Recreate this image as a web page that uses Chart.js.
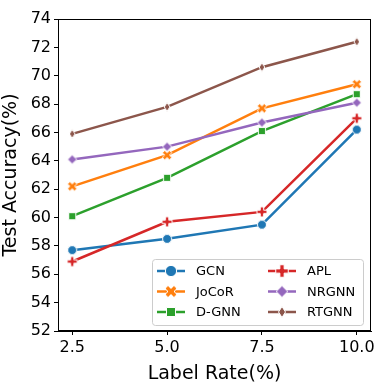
<!DOCTYPE html>
<html>
<head>
<meta charset="utf-8">
<script src="https://cdn.jsdelivr.net/npm/chart.js@4/dist/chart.umd.min.js"></script>
<style>
  html, body { margin: 0; padding: 0; background: #fff; }
  #wrap { width: 390px; height: 390px; }
</style>
</head>
<body>
<div id="wrap"><canvas id="c" width="390" height="390"></canvas></div>
<script>
// Data
const labelRates = [2.5, 5.0, 7.5, 10.0];
const yTicks = [52, 54, 56, 58, 60, 62, 64, 66, 68, 70, 72, 74];
const seriesNames = ['GCN', 'JoCoR', 'D-GNN', 'APL', 'NRGNN', 'RTGNN'];
const gcn = [57.7, 58.5, 59.5, 66.2];
const jocor = [62.2, 64.4, 67.7, 69.4];
const dgnn = [60.1, 62.8, 66.1, 68.7];
const apl = [56.9, 59.7, 60.4, 67.0];
const nrgnn = [64.1, 65.0, 66.7, 68.1];
const rtgnn = [65.9, 67.8, 70.6, 72.4];

const seriesValues = [gcn, jocor, dgnn, apl, nrgnn, rtgnn];
const colors = ['#1f77b4', '#ff7f0e', '#2ca02c', '#d62728', '#9467bd', '#8c564b'];
const shapes = ['circle', 'X', 'square', 'P', 'D', 'd'];
const FONT = "'DejaVu Sans', sans-serif";

// Draw a matplotlib-like marker into its own small canvas
function makeMarker(shape, color, k) {
    const size = Math.ceil(16 * k);
    const cv = document.createElement('canvas');
    cv.width = size;
    cv.height = size;
    const ctx = cv.getContext('2d');
    const c = size / 2;
    ctx.fillStyle = color;
    ctx.strokeStyle = '#fff';
    ctx.lineWidth = 1;
    ctx.beginPath();
    if (shape === 'circle') {
        ctx.arc(c, c, 4.5 * k, 0, Math.PI * 2);
    } else if (shape === 'square') {
        const h = 3.6 * k;
        ctx.rect(c - h, c - h, 2 * h, 2 * h);
    } else if (shape === 'D') {
        const h = 4.6 * k;
        ctx.moveTo(c, c - h); ctx.lineTo(c + h, c); ctx.lineTo(c, c + h); ctx.lineTo(c - h, c);
        ctx.closePath();
    } else if (shape === 'd') {
        const h = 4.4 * k, w = 2.8 * k;
        ctx.moveTo(c, c - h); ctx.lineTo(c + w, c); ctx.lineTo(c, c + h); ctx.lineTo(c - w, c);
        ctx.closePath();
    } else {
        // plus shape, rotated for 'X'
        const a = 5 * k, t = 1.7 * k;
        const pts = [[-a, -t], [-t, -t], [-t, -a], [t, -a], [t, -t], [a, -t],
                     [a, t], [t, t], [t, a], [-t, a], [-t, t], [-a, t]];
        const ang = shape === 'X' ? Math.PI / 4 : 0;
        pts.forEach((p, i) => {
            const x = c + p[0] * Math.cos(ang) - p[1] * Math.sin(ang);
            const y = c + p[0] * Math.sin(ang) + p[1] * Math.cos(ang);
            if (i === 0) ctx.moveTo(x, y); else ctx.lineTo(x, y);
        });
        ctx.closePath();
    }
    ctx.fill();
    ctx.stroke();
    return cv;
}

const plotMarkers = shapes.map((s, i) => makeMarker(s, colors[i], 1));
const legendMarkers = shapes.map((s, i) => makeMarker(s, colors[i], 1.25));

// Full box around the plot area
const frameBox = {
    id: 'frameBox',
    afterDatasetsDraw(chart) {
        const a = chart.chartArea;
        const ctx = chart.ctx;
        ctx.save();
        ctx.strokeStyle = '#000';
        ctx.lineWidth = 1;
        ctx.strokeRect(Math.round(a.left) + 0.5, Math.round(a.top) + 0.5,
            Math.round(a.right - a.left) - 1, Math.round(a.bottom - a.top) - 1);
        ctx.restore();
    }
};

// Two-column legend inside the lower right of the plot
const innerLegend = {
    id: 'innerLegend',
    afterDraw(chart) {
        const a = chart.chartArea;
        const ctx = chart.ctx;
        const boxW = 211, boxH = 66;
        const x0 = a.right - 8 - boxW, y0 = a.bottom - 6 - boxH;
        ctx.save();
        ctx.beginPath();
        ctx.roundRect(x0 + 0.5, y0 + 0.5, boxW, boxH, 3);
        ctx.fillStyle = 'rgba(255,255,255,0.8)';
        ctx.fill();
        ctx.strokeStyle = '#cccccc';
        ctx.lineWidth = 1;
        ctx.stroke();
        ctx.font = '13px ' + FONT;
        ctx.textBaseline = 'middle';
        seriesNames.forEach((name, i) => {
            const col = Math.floor(i / 3), row = i % 3;
            const lx = x0 + 5 + col * 111;
            const ly = y0 + 12 + row * 20.5;
            ctx.strokeStyle = colors[i];
            ctx.lineWidth = 2.5;
            ctx.beginPath();
            ctx.moveTo(lx, ly);
            ctx.lineTo(lx + 28, ly);
            ctx.stroke();
            const m = legendMarkers[i];
            ctx.drawImage(m, lx + 14 - m.width / 2, ly - m.height / 2);
            ctx.fillStyle = '#000';
            ctx.fillText(name, lx + 39, ly + 1);
        });
        ctx.restore();
    }
};

const datasets = seriesNames.map((name, i) => ({
    label: name,
    data: labelRates.map((x, j) => ({ x: x, y: seriesValues[i][j] })),
    borderColor: colors[i],
    backgroundColor: colors[i],
    borderWidth: 2.5,
    pointStyle: plotMarkers[i],
    pointRadius: 5,
    pointHoverRadius: 5,
    tension: 0,
    order: seriesNames.length - i
}));

new Chart(document.getElementById('c'), {
    type: 'line',
    data: { datasets: datasets },
    options: {
        responsive: false,
        animation: false,
        devicePixelRatio: 1,
        layout: { padding: { top: 19, right: 19, left: 0, bottom: 0 } },
        plugins: { legend: { display: false }, tooltip: { enabled: false } },
        scales: {
            x: {
                type: 'linear',
                min: 2.125,
                max: 10.375,
                afterBuildTicks(scale) {
                    scale.ticks = labelRates.map(v => ({ value: v }));
                },
                afterFit(scale) { scale.height = 59; },
                ticks: {
                    color: '#000',
                    font: { family: FONT, size: 16 },
                    padding: 3,
                    maxRotation: 0,
                    callback: v => Number(v).toFixed(1)
                },
                grid: { display: true, drawOnChartArea: false, drawTicks: true, tickLength: 4, color: '#000' },
                border: { display: true, color: '#000', width: 1 },
                title: {
                    display: true,
                    text: 'Label Rate(%)',
                    color: '#000',
                    font: { family: FONT, size: 19 },
                    padding: { top: 0, bottom: 5 }
                }
            },
            y: {
                type: 'linear',
                min: 52,
                max: 74,
                afterBuildTicks(scale) {
                    scale.ticks = yTicks.map(v => ({ value: v }));
                },
                afterFit(scale) { scale.width = 58; },
                ticks: {
                    color: '#000',
                    font: { family: FONT, size: 16 },
                    padding: 3
                },
                grid: { display: true, drawOnChartArea: false, drawTicks: true, tickLength: 4, color: '#000' },
                border: { display: true, color: '#000', width: 1 },
                title: {
                    display: true,
                    text: 'Test Accuracy(%)',
                    color: '#000',
                    font: { family: FONT, size: 19 },
                    padding: { top: 0, bottom: 0 }
                }
            }
        }
    },
    plugins: [frameBox, innerLegend]
});
</script>
</body>
</html>
